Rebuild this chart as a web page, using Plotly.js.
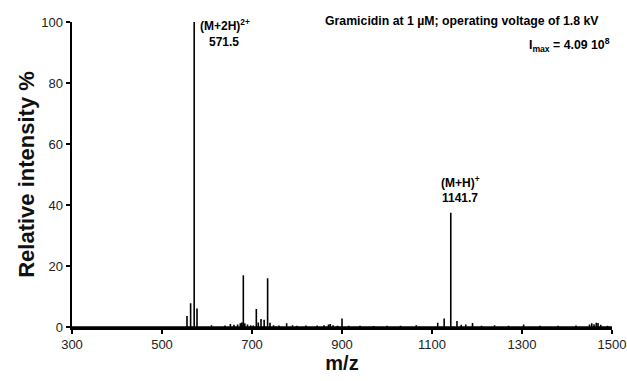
<!DOCTYPE html>
<html><head><meta charset="utf-8">
<script src="https://cdn.plot.ly/plotly-3.0.1.min.js"></script>
<style>html,body{margin:0;padding:0;background:#fff}#chart{width:627px;height:381px}</style>
</head><body><div id="chart"></div>
<script>
// Peak list (m/z, relative intensity %)
var peakMz = [555.5, 563.6, 571.5, 577.8, 610, 640, 652, 660, 668, 674, 677, 680.7, 684, 690, 697, 703,
  709.6, 714, 720, 727, 734.7, 740, 748, 760, 777, 790, 800, 820, 845, 860, 870, 874, 880, 890, 900,
  915, 940, 970, 1000, 1030, 1065, 1112.7, 1127, 1141.7, 1155.5, 1165, 1175, 1190, 1210, 1239, 1270,
  1303.6, 1340, 1380, 1420, 1450, 1455, 1460, 1465, 1469, 1475, 1490];
var peakInt = [3.6, 7.8, 100, 6.1, 0.6, 0.5, 1.0, 0.7, 0.8, 1.2, 1.5, 17, 1.2, 0.8, 0.6, 0.5,
  5.9, 1.5, 2.6, 2.4, 16, 1.4, 0.6, 0.5, 1.2, 0.6, 0.4, 0.5, 0.5, 0.6, 0.8, 1.0, 0.6, 0.4, 2.8,
  0.4, 0.4, 0.3, 0.4, 0.4, 0.6, 1.4, 2.8, 37.5, 2.0, 0.7, 0.8, 1.3, 0.4, 0.6, 0.4,
  0.8, 0.4, 0.4, 0.5, 0.8, 1.2, 0.9, 1.4, 1.3, 0.7, 0.4];
var xTicks = [300, 500, 700, 900, 1100, 1300, 1500];
var yTicks = [0, 20, 40, 60, 80, 100];

// Build stick spectrum
var sx = [300], sy = [0];
for (var i = 0; i < peakMz.length; i++) {
  sx.push(peakMz[i], peakMz[i], peakMz[i]);
  sy.push(0, peakInt[i], 0);
}
sx.push(1500); sy.push(0);

var trace = {x: sx, y: sy, type: 'scatter', mode: 'lines',
  line: {color: '#000', width: 1.6}, hoverinfo: 'skip', cliponaxis: false};

var FAM = 'Liberation Sans, Arial, sans-serif';
function bf(s) { return {family: FAM, size: s, color: '#000', weight: 'bold'}; }
var layout = {
  width: 627, height: 381,
  margin: {l: 72, r: 15, t: 22, b: 54},
  paper_bgcolor: '#fff', plot_bgcolor: '#fff',
  showlegend: false,
  font: {family: FAM, color: '#000', size: 12},
  xaxis: {range: [300, 1500], tickvals: xTicks, ticktext: xTicks.map(String),
    showgrid: false, zeroline: false, showline: true, linecolor: '#000', linewidth: 2.5,
    ticks: 'outside', ticklen: 4, tickwidth: 2, tickcolor: '#000',
    tickfont: {size: 13, color: '#222'},
    title: {text: '<b>m/z</b>', font: {size: 20, color: '#111'}, standoff: 4}},
  yaxis: {range: [0, 100], tickvals: yTicks, ticktext: yTicks.map(String),
    showgrid: false, zeroline: false, showline: true, linecolor: '#000', linewidth: 2.5,
    ticks: 'outside', ticklen: 4, tickwidth: 2, tickcolor: '#000',
    tickfont: {size: 13, color: '#222'},
    title: {text: '<b>Relative intensity %</b>', font: {size: 22, color: '#111'}, standoff: 1}},
  annotations: [
    {xref: 'paper', yref: 'paper', x: 0.98, y: 1.003, xanchor: 'right', yanchor: 'middle',
     text: 'Gramicidin at 1 µM; operating voltage of 1.8 kV', showarrow: false, font: bf(12.3)},
    {xref: 'paper', yref: 'paper', x: 1.0, y: 0.925, xanchor: 'right', yanchor: 'middle',
     text: 'I<sub>max</sub> = 4.09 10<sup>8</sup>', showarrow: false, font: bf(12.3)},
    {xref: 'x', yref: 'paper', x: 580, y: 0.99, xanchor: 'left', yanchor: 'middle',
     text: '(M+2H)<sup>2+</sup>', showarrow: false, font: bf(12)},
    {xref: 'x', yref: 'y', x: 600, y: 93.4, xanchor: 'left', yanchor: 'middle',
     text: '571.5', showarrow: false, font: bf(12)},
    {xref: 'x', yref: 'y', x: 1163, y: 47.5, xanchor: 'center', yanchor: 'middle',
     text: '(M+H)<sup>+</sup>', showarrow: false, font: bf(12)},
    {xref: 'x', yref: 'y', x: 1163, y: 42.3, xanchor: 'center', yanchor: 'middle',
     text: '1141.7', showarrow: false, font: bf(12)}
  ]
};
Plotly.newPlot('chart', [trace], layout, {displayModeBar: false, staticPlot: true});
</script></body></html>
